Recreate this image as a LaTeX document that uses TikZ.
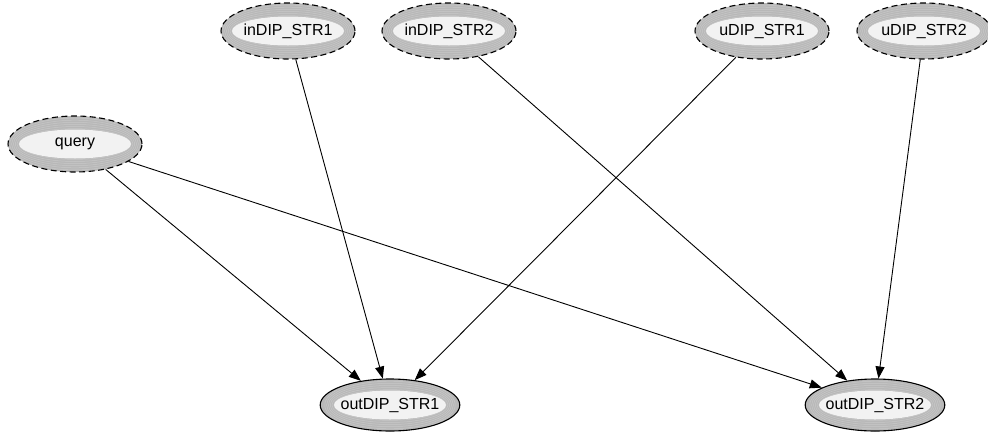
\documentclass[tikz,border=0pt]{standalone}
\usepackage{fontspec}
\setmainfont{Liberation Sans}
\usetikzlibrary{shapes.geometric,arrows.meta}
\definecolor{ringgray}{HTML}{B8B8B8}
\definecolor{ringlight}{HTML}{C8C8C8}
\definecolor{corefill}{HTML}{F2F2F2}
\tikzset{
  ovalnode/.style={ellipse, draw=black, line width=1.1pt, fill=ringgray,
    minimum width=134pt, minimum height=56pt, inner sep=0pt,
    font=\fontsize{16}{19}\selectfont,
    path picture={
      \foreach \k in {0.1,0.25,0.4,0.55,0.7,0.85}{
        \draw[solid, ringlight, line width=0.5pt]
          (path picture bounding box.center)
          ellipse [x radius={(55+\k*12)*1pt}, y radius={(14+\k*14)*1pt}];
      }
      \fill[corefill] (path picture bounding box.center)
        ellipse [x radius=56pt, y radius=14.5pt];
    }},
  source/.style={ovalnode, dash pattern=on 6pt off 3.5pt},
  sink/.style={ovalnode, minimum width=132pt, minimum height=52pt},
  link/.style={-{Triangle[length=12pt,width=9pt]}, line width=0.9pt}
}
\begin{document}
\begin{tikzpicture}[x=1pt, y=-1pt]
  \useasboundingbox[fill=white] (0,0) rectangle (988,432);

  % inputs
  \node[source] (inA)   at (288,31)  {inDIP\_STR1};
  \node[source] (inB)   at (449,31)  {inDIP\_STR2};
  \node[source] (uA)    at (762,31)  {uDIP\_STR1};
  \node[source] (uB)    at (924,31)  {uDIP\_STR2};
  \node[source] (query) at (75,144)  {query};

  % outputs
  \node[sink] (outA) at (390,405) {outDIP\_STR1};
  \node[sink] (outB) at (875,405) {outDIP\_STR2};

  % dependencies
  \draw[link] (query) -- (outA);
  \draw[link] (query) -- (outB);
  \draw[link] (inA)   -- (outA);
  \draw[link] (inB)   -- (outB);
  \draw[link] (uA)    -- (outA);
  \draw[link] (uB)    -- (outB);
\end{tikzpicture}
\end{document}
